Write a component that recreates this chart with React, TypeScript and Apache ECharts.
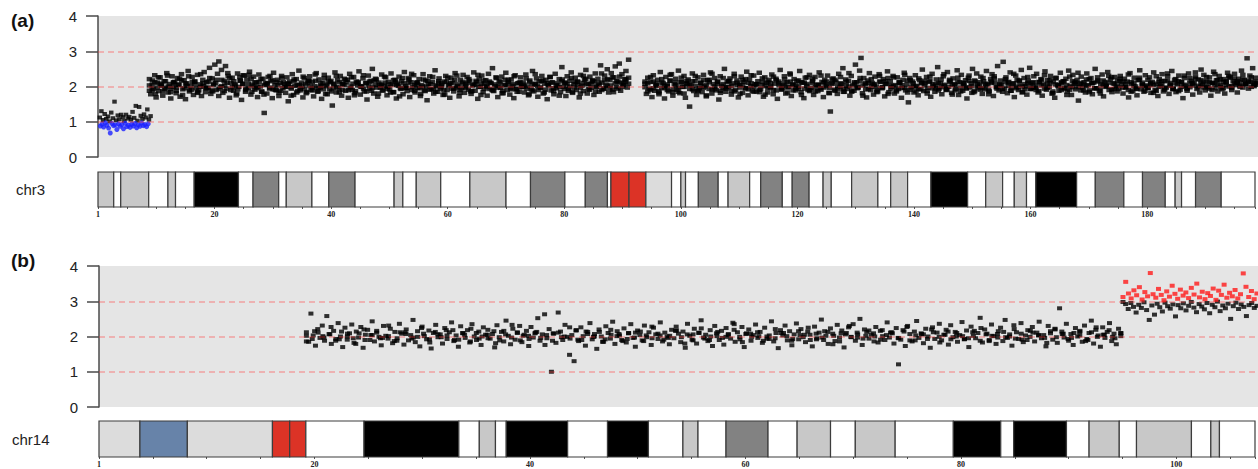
import React, { useEffect, useRef } from "react";
import * as echarts from "echarts";

// ---------- axis extents (Mb) ----------
const CHR3_LEN = 198.5;
const CHR14_LEN = 107.3;
const Y_TICKS = [0, 1, 2, 3, 4];
const REF_LEVELS = [1, 2, 3];

// ---------- ideogram bands [start, end, stain] ----------
const CHR3_BANDS: [number, number, string][] = [
  [0, 2.7, "gpos25"], [2.7, 3.9, "gneg"], [3.9, 8.7, "gpos25"], [8.7, 12.0, "gneg"], [12.0, 13.3, "gpos25"],
  [13.3, 16.5, "gneg"], [16.5, 24.1, "gpos100"], [24.1, 26.6, "gneg"], [26.6, 31.0, "gpos50"], [31.0, 32.3, "gneg"],
  [32.3, 36.7, "gpos25"], [36.7, 39.6, "gneg"], [39.6, 44.1, "gpos50"], [44.1, 50.8, "gneg"], [50.8, 52.3, "gpos25"],
  [52.3, 54.6, "gneg"], [54.6, 58.8, "gpos25"], [58.8, 63.8, "gneg"], [63.8, 70.0, "gpos25"], [70.0, 74.2, "gneg"],
  [74.2, 80.1, "gpos50"], [80.1, 83.6, "gneg"], [83.6, 87.4, "gpos50"], [87.4, 88.0, "gneg"], [88.0, 91.1, "acen"],
  [91.1, 94.0, "acen"], [94.0, 98.4, "gvar"], [98.4, 100.0, "gneg"], [100.0, 100.8, "gpos25"], [100.8, 103.0, "gneg"],
  [103.0, 106.4, "gpos50"], [106.4, 108.1, "gneg"], [108.1, 111.8, "gpos25"], [111.8, 113.7, "gneg"], [113.7, 117.4, "gpos50"],
  [117.4, 119.1, "gneg"], [119.1, 122.0, "gpos50"], [122.0, 124.4, "gneg"], [124.4, 125.8, "gpos25"], [125.8, 129.3, "gneg"],
  [129.3, 133.8, "gpos25"], [133.8, 136.0, "gneg"], [136.0, 138.9, "gpos25"], [138.9, 142.9, "gneg"], [142.9, 149.2, "gpos100"],
  [149.2, 152.3, "gneg"], [152.3, 155.2, "gpos25"], [155.2, 157.2, "gneg"], [157.2, 159.3, "gpos25"], [159.3, 160.9, "gneg"],
  [160.9, 167.9, "gpos100"], [167.9, 171.1, "gneg"], [171.1, 176.0, "gpos50"], [176.0, 179.2, "gneg"], [179.2, 183.1, "gpos50"],
  [183.1, 184.8, "gneg"], [184.8, 185.9, "gpos25"], [185.9, 188.3, "gneg"], [188.3, 192.7, "gpos50"], [192.7, 198.5, "gneg"],
];
const CHR14_BANDS: [number, number, string][] = [
  [0, 3.8, "gvar"], [3.8, 8.2, "stalk"], [8.2, 16.1, "gvar"], [16.1, 17.7, "acen"], [17.7, 19.2, "acen"],
  [19.2, 24.6, "gneg"], [24.6, 33.4, "gpos100"], [33.4, 35.3, "gneg"], [35.3, 36.8, "gpos25"], [36.8, 37.8, "gneg"],
  [37.8, 43.5, "gpos100"], [43.5, 47.2, "gneg"], [47.2, 51.0, "gpos100"], [51.0, 54.2, "gneg"], [54.2, 55.6, "gpos25"],
  [55.6, 58.2, "gneg"], [58.2, 62.1, "gpos50"], [62.1, 64.8, "gneg"], [64.8, 67.9, "gpos25"], [67.9, 70.2, "gneg"],
  [70.2, 73.9, "gpos25"], [73.9, 79.3, "gneg"], [79.3, 83.7, "gpos100"], [83.7, 84.9, "gneg"], [84.9, 89.8, "gpos100"],
  [89.8, 91.9, "gneg"], [91.9, 94.7, "gpos25"], [94.7, 96.3, "gneg"], [96.3, 101.4, "gpos25"], [101.4, 103.2, "gneg"],
  [103.2, 104.0, "gpos25"], [104.0, 107.3, "gneg"],
];
const STAIN_COLORS: Record<string, string> = {
  gneg: "#ffffff", gpos25: "#c8c8c8", gpos50: "#828282", gpos100: "#000000",
  acen: "#dc3326", gvar: "#dcdcdc", stalk: "#6783a9",
};

// ---------- copy-number segments: [start Mb, end Mb] ----------
const CHR3_SEG_A = [0.3, 9.0];
const CHR3_SEG_A_BLUE = [0.4, 8.6];
const CHR3_SEG_B = [8.8, 90.8];
const CHR3_SEG_C = [93.6, 198.3];
const CHR14_SEG_D = [19.2, 94.6];
const CHR14_SEG_E = [94.8, 107.2];

// ---------- copy-number values (in probe order along each segment) ----------
const chr3LowBlack = [1.12, 1.3, 1.05, 1.22, 1.08, 1.15, 1.01, 1.26, 1.1, 1.57, 1.04, 1.18, 1.07, 1.2, 1.13, 1.02, 1.2, 1.09, 1.14, 1.06, 1.28, 1.11, 1.45, 1.03, 1.42, 1.17, 1.08, 1.21, 1.12, 1.35, 1.06, 1.16];
const chr3LowBlue = [0.88, 0.93, 0.85, 0.97, 0.9, 0.82, 0.68, 0.95, 0.89, 0.91, 0.78, 0.94, 0.87, 0.92, 0.8, 0.96, 0.86, 0.9, 0.84, 0.93, 0.88, 0.95, 0.83, 0.91, 0.87, 0.97, 0.89, 0.92, 0.86, 0.94];
const chr3SegB = [
  2.21, 1.78, 2.04, 1.93, 2.32, 1.69, 2.11, 1.87, 2.26, 2.02, 1.74, 2.15, 1.96, 2.38, 1.83, 2.07, 1.66, 2.29, 1.99, 2.13,
  1.81, 2.24, 2.05, 1.71, 2.35, 1.92, 2.18, 1.64, 2.09, 2.44, 1.86, 2.01, 2.27, 1.76, 2.14, 1.95, 2.33, 1.89, 2.06, 1.73,
  2.19, 2.41, 1.84, 2.12, 1.97, 2.53, 1.79, 2.23, 2.08, 2.62, 1.9, 2.36, 2.71, 1.98, 2.47, 1.82, 2.16, 2.58, 1.94, 2.3,
  1.68, 2.1, 2.25, 1.88, 2.03, 1.75, 2.37, 1.99, 2.17, 1.62, 2.08, 2.31, 1.85, 2.2, 1.96, 2.42, 1.77, 2.05, 2.28, 1.91,
  2.12, 1.7, 2.34, 2.0, 1.86, 2.22, 1.25, 2.09, 1.8, 2.27, 1.94, 2.15, 1.67, 2.39, 2.04, 1.89, 2.19, 1.73, 2.1, 2.3,
  1.95, 2.07, 1.82, 2.26, 1.58, 2.14, 1.98, 2.35, 1.76, 2.02, 2.21, 1.87, 2.45, 1.93, 2.11, 1.69, 2.24, 2.06, 1.84, 2.17,
  2.29, 1.9, 2.13, 1.72, 2.01, 2.38, 1.85, 2.2, 1.97, 1.65, 2.1, 2.33, 1.79, 2.05, 2.25, 1.92, 2.16, 1.46, 2.08, 2.4,
  1.83, 2.18, 1.96, 2.3, 1.74, 2.07, 2.22, 1.88, 2.12, 1.68, 2.36, 2.0, 1.9, 2.27, 1.81, 2.14, 2.03, 2.43, 1.77, 1.99,
  2.23, 1.86, 2.09, 1.63, 2.31, 1.94, 2.16, 2.5, 1.8, 2.05, 2.2, 1.71, 2.11, 1.97, 2.34, 1.88, 2.02, 2.26, 1.75, 2.13,
  1.92, 2.37, 2.06, 1.84, 2.19, 1.66, 2.08, 2.28, 1.95, 2.15, 1.78, 2.41, 2.01, 1.87, 2.24, 1.7, 2.12, 1.98, 2.32, 1.83,
  2.1, 1.96, 2.21, 1.73, 2.04, 2.35, 1.89, 2.17, 1.61, 2.07, 2.29, 1.93, 2.13, 1.8, 2.46, 2.0, 1.85, 2.23, 1.94, 2.09,
  1.76, 2.14, 2.3, 1.9, 2.02, 1.68, 2.25, 2.11, 1.86, 2.38, 1.97, 2.06, 1.72, 2.19, 1.95, 2.33, 1.82, 2.08, 2.27, 1.91,
  2.16, 1.79, 2.03, 2.4, 1.88, 2.12, 1.65, 2.22, 1.99, 2.31, 1.84, 2.07, 2.18, 1.74, 2.36, 1.93, 2.1, 2.52, 1.87, 2.01,
  2.24, 1.7, 2.15, 1.96, 2.28, 1.81, 2.05, 2.39, 1.9, 2.13, 1.77, 2.2, 2.02, 1.67, 2.32, 1.94, 2.09, 1.85, 2.26, 1.98,
  2.11, 1.83, 2.34, 2.0, 1.75, 2.17, 1.92, 2.44, 1.86, 2.06, 2.23, 1.71, 2.14, 1.97, 2.3, 1.8, 2.08, 2.19, 1.64, 2.03,
  2.27, 1.89, 2.12, 1.78, 2.36, 1.95, 2.04, 2.21, 1.84, 2.55, 1.99, 2.1, 1.73, 2.29, 1.93, 2.16, 2.4, 1.82, 2.07, 2.25,
  1.9, 2.13, 1.69, 2.33, 2.02, 1.87, 2.19, 2.47, 1.8, 2.08, 2.28, 1.96, 2.15, 1.76, 2.37, 2.0, 2.22, 1.85, 2.6, 2.11,
  1.94, 2.31, 2.05, 2.49, 1.83, 2.18, 2.38, 1.91, 2.26, 2.57, 1.98, 2.14, 2.65, 1.88, 2.35, 2.09, 2.21, 2.44, 1.97, 2.76,
];
const chr3SegBExtra = [
  2.03, 1.91, 2.12, 1.97, 2.08, 1.86, 2.15, 2.0, 1.94, 2.1, 1.88, 2.05, 2.17, 1.95, 2.02, 1.9, 2.13, 2.07, 1.84, 1.99,
  2.09, 1.96, 2.14, 1.89, 2.04, 2.19, 1.93, 2.01, 1.87, 2.11, 2.24, 1.98, 2.06, 1.92, 2.16, 2.32, 1.9, 2.08, 2.21, 2.0,
  1.95, 2.13, 1.85, 2.04, 2.1, 1.97, 2.18, 1.91, 2.03, 1.88, 2.12, 1.99, 2.07, 1.94, 2.15, 1.83, 2.05, 2.0, 1.93, 2.11,
  2.02, 1.89, 2.16, 1.96, 2.09, 1.92, 2.01, 2.14, 1.86, 2.06, 1.98, 2.12, 1.9, 2.04, 2.19, 1.95, 2.08, 1.87, 2.13, 2.0,
  1.94, 2.1, 2.03, 1.88, 2.17, 1.97, 2.05, 1.91, 2.11, 1.99, 2.06, 1.84, 2.14, 2.02, 1.93, 2.09, 1.96, 2.2, 1.9, 2.04,
  2.12, 1.95, 2.0, 1.87, 2.15, 2.07, 1.92, 2.03, 2.1, 1.98, 1.89, 2.13, 2.05, 1.94, 2.18, 2.01, 1.91, 2.08, 1.96, 2.11,
  1.86, 2.04, 2.16, 1.99, 2.09, 1.93, 2.02, 2.14, 1.9, 2.06, 1.97, 2.12, 1.88, 2.03, 2.19, 1.95, 2.07, 1.92, 2.1, 2.0,
  2.05, 1.94, 2.13, 1.89, 2.08, 2.01, 1.96, 2.17, 1.91, 2.04, 2.11, 1.87, 2.09, 1.98, 2.15, 1.93, 2.06, 2.0, 1.85, 2.12,
  2.03, 1.97, 2.1, 2.22, 1.92, 2.07, 2.14, 1.99, 2.05, 1.9, 2.18, 2.02, 1.95, 2.26, 2.09, 1.94, 2.11, 2.04, 2.2, 2.08,
];
const chr3SegBMore = [
  1.88, 2.17, 1.79, 2.26, 2.05, 1.93, 2.31, 1.84, 2.12, 1.97, 2.22, 1.76, 2.08, 2.29, 1.91, 2.14, 1.82, 2.35, 2.01, 1.95,
  2.24, 1.86, 2.1, 1.73, 2.19, 2.03, 2.38, 1.9, 2.15, 1.8, 2.27, 2.07, 1.94, 2.33, 1.85, 2.11, 1.98, 2.21, 1.77, 2.06,
  2.3, 1.92, 2.13, 1.83, 2.25, 1.99, 2.09, 1.74, 2.2, 2.04, 1.89, 2.28, 1.81, 2.16, 1.96, 2.34, 1.87, 2.02, 2.23, 1.78,
  2.12, 1.95, 2.3, 1.84, 2.07, 2.19, 1.9, 2.26, 1.75, 2.1, 2.01, 2.32, 1.86, 2.14, 1.97, 2.22, 1.8, 2.05, 2.28, 1.93,
  1.83, 2.18, 2.04, 1.72, 2.24, 1.96, 2.11, 2.36, 1.88, 2.08, 1.79, 2.2, 2.0, 1.91, 2.27, 1.85, 2.15, 2.03, 1.77, 2.25,
  2.09, 1.94, 2.31, 1.82, 2.13, 2.0, 2.21, 1.87, 2.06, 2.33, 1.76, 2.17, 1.98, 2.1, 1.89, 2.26, 2.02, 1.81, 2.19, 2.07,
  1.92, 2.29, 1.85, 2.12, 1.99, 2.23, 1.78, 2.05, 2.35, 1.9, 2.16, 1.83, 2.09, 2.27, 1.95, 2.02, 1.74, 2.2, 2.11, 1.88,
  2.24, 1.97, 2.14, 1.8, 2.3, 2.06, 1.91, 2.18, 1.86, 2.1, 2.37, 1.94, 2.21, 2.03, 1.84, 2.15, 2.28, 1.99, 2.12, 2.25,
];
const chr3SegC = [
  2.08, 1.79, 2.25, 1.94, 2.13, 1.7, 2.32, 1.88, 2.04, 2.19, 1.83, 2.41, 1.97, 2.1, 1.66, 2.27, 2.01, 1.86, 2.16, 2.35,
  1.74, 2.06, 2.22, 1.91, 2.45, 1.81, 2.12, 1.99, 2.3, 1.68, 2.09, 2.2, 1.43, 2.03, 2.37, 1.87, 2.15, 1.76, 2.26, 1.95,
  2.11, 1.84, 2.33, 2.0, 1.72, 2.18, 1.93, 2.4, 1.8, 2.07, 2.24, 1.89, 2.14, 1.63, 2.29, 2.02, 1.96, 2.5, 1.85, 2.12,
  1.98, 2.23, 1.77, 2.09, 2.36, 1.9, 2.17, 1.69, 2.05, 2.28, 1.82, 2.13, 1.95, 2.42, 1.75, 2.2, 2.01, 1.88, 2.31, 2.07,
  1.86, 2.15, 2.39, 1.92, 2.04, 1.71, 2.26, 2.1, 1.83, 2.19, 1.97, 2.34, 1.78, 2.08, 2.22, 1.65, 2.14, 2.47, 1.91, 2.03,
  2.29, 1.8, 2.12, 1.99, 2.37, 1.73, 2.06, 2.21, 1.89, 2.16, 1.94, 2.44, 1.84, 2.11, 1.67, 2.25, 2.02, 1.9, 2.33, 1.96,
  2.1, 1.76, 2.27, 2.05, 1.87, 2.4, 1.95, 2.13, 1.7, 2.19, 2.01, 2.31, 1.82, 1.29, 2.09, 2.23, 1.91, 2.14, 1.79, 2.36,
  1.98, 2.07, 2.52, 1.85, 2.2, 1.93, 2.16, 1.74, 2.3, 2.03, 1.88, 2.62, 2.12, 1.97, 2.45, 2.81, 1.81, 2.24, 2.06, 1.69,
  2.17, 2.38, 1.9, 2.1, 1.77, 2.28, 2.0, 1.86, 2.35, 2.13, 1.95, 2.21, 1.72, 2.08, 2.43, 1.84, 2.15, 1.99, 2.3, 1.8,
  2.04, 2.26, 1.93, 2.11, 1.68, 2.19, 2.39, 1.89, 2.06, 1.55, 2.24, 1.97, 2.14, 1.83, 2.32, 2.02, 1.75, 2.18, 1.92, 2.48,
  1.87, 2.09, 2.27, 1.96, 2.13, 1.71, 2.36, 2.01, 1.85, 2.2, 2.55, 1.94, 2.1, 1.78, 2.29, 2.05, 1.9, 2.41, 1.99, 2.16,
  1.82, 2.23, 2.07, 1.93, 2.46, 1.76, 2.12, 2.33, 1.88, 2.03, 2.18, 1.66, 2.25, 1.97, 2.09, 2.5, 1.84, 2.14, 2.37, 1.95,
  2.02, 2.28, 1.79, 2.15, 1.92, 2.44, 2.06, 1.86, 2.21, 2.35, 1.73, 2.11, 1.98, 2.58, 1.89, 2.17, 2.04, 2.7, 1.94, 2.26,
  1.81, 2.13, 2.4, 1.97, 2.08, 1.7, 2.31, 2.19, 1.9, 2.05, 2.47, 1.85, 2.24, 2.0, 1.77, 2.16, 2.53, 1.93, 2.1, 2.29,
  1.96, 2.36, 1.83, 2.12, 2.21, 1.74, 2.06, 2.43, 1.91, 2.18, 1.99, 2.3, 1.8, 2.14, 1.68, 2.25, 2.03, 1.88, 2.39, 2.09,
  2.15, 1.94, 2.22, 1.86, 2.45, 2.01, 1.76, 2.33, 2.1, 1.92, 2.19, 1.6, 2.07, 2.28, 1.97, 2.12, 1.83, 2.37, 2.04, 1.89,
  2.24, 1.78, 2.11, 2.5, 1.95, 2.17, 1.87, 2.06, 2.34, 1.72, 2.13, 2.02, 2.41, 1.9, 2.2, 1.84, 2.09, 2.27, 1.98, 2.16,
  1.93, 2.3, 2.05, 1.8, 2.22, 1.99, 2.14, 1.69, 2.38, 2.07, 1.88, 2.25, 2.0, 1.75, 2.18, 2.46, 1.92, 2.11, 1.85, 2.32,
  2.03, 1.96, 2.26, 1.82, 2.13, 2.4, 1.9, 2.08, 1.73, 2.21, 2.01, 2.35, 1.86, 2.15, 1.97, 2.29, 1.79, 2.1, 2.44, 1.94,
  2.19, 1.84, 2.06, 2.31, 1.91, 2.12, 1.67, 2.24, 2.02, 1.88, 2.37, 1.98, 2.16, 1.77, 2.09, 2.28, 1.93, 2.2, 1.83, 2.48,
  2.05, 2.33, 1.89, 2.14, 1.98, 2.26, 1.74, 2.1, 2.42, 1.95, 2.18, 1.86, 2.3, 2.03, 1.92, 2.21, 1.8, 2.12, 2.39, 2.0,
  2.27, 1.9, 2.15, 2.36, 2.04, 1.83, 2.22, 2.11, 2.45, 1.97, 2.19, 2.07, 2.8, 1.94, 2.31, 2.13, 2.52, 2.01, 2.25, 2.09,
];
const chr3SegCExtra = [
  1.98, 2.09, 1.9, 2.14, 2.02, 1.87, 2.11, 1.95, 2.06, 2.17, 1.92, 2.03, 1.85, 2.12, 1.99, 2.08, 1.93, 2.15, 2.01, 1.89,
  2.1, 1.96, 2.05, 2.19, 1.91, 2.0, 2.13, 1.88, 2.07, 1.94, 2.16, 2.02, 1.86, 2.11, 1.97, 2.04, 2.21, 1.92, 2.09, 1.99,
  2.06, 1.84, 2.13, 2.01, 1.95, 2.1, 1.9, 2.18, 2.03, 1.93, 2.08, 1.97, 2.14, 1.89, 2.05, 2.0, 2.12, 1.94, 2.07, 1.87,
  2.15, 1.98, 2.04, 1.91, 2.11, 2.06, 1.96, 2.2, 1.88, 2.02, 2.09, 1.93, 2.13, 2.0, 1.85, 2.08, 1.95, 2.16, 2.03, 1.92,
  2.1, 1.99, 2.05, 1.9, 2.14, 1.97, 2.07, 2.24, 1.94, 2.01, 1.86, 2.12, 2.04, 1.96, 2.17, 1.91, 2.09, 2.0, 1.93, 2.11,
  2.03, 1.88, 2.15, 2.06, 1.95, 2.1, 1.98, 2.02, 1.92, 2.19, 2.05, 1.89, 2.13, 1.97, 2.08, 1.94, 2.16, 2.01, 1.87, 2.07,
  2.12, 1.96, 2.04, 1.91, 2.1, 2.23, 1.99, 2.06, 1.93, 2.14, 2.02, 1.88, 2.09, 1.95, 2.17, 2.0, 1.92, 2.11, 2.05, 1.97,
  1.9, 2.13, 2.03, 1.94, 2.08, 2.18, 1.86, 2.06, 2.0, 2.12, 1.96, 2.04, 1.91, 2.15, 2.07, 1.98, 2.1, 1.89, 2.02, 2.21,
  2.09, 1.95, 2.14, 1.92, 2.05, 1.99, 2.11, 2.26, 1.93, 2.03, 2.16, 1.97, 2.08, 1.9, 2.12, 2.01, 1.94, 2.19, 2.06, 2.0,
  1.96, 2.1, 2.04, 1.88, 2.13, 2.07, 1.95, 2.17, 2.02, 1.92, 2.09, 2.15, 1.99, 2.05, 1.93, 2.11, 2.03, 2.22, 1.97, 2.08,
  2.14, 2.01, 1.94, 2.1, 2.06, 2.18, 1.98, 2.12, 2.04, 2.25, 1.96, 2.09, 2.15, 2.02, 2.2, 2.07, 2.13, 1.99, 2.11, 2.05,
];
const chr3SegCMore = [
  2.14, 1.86, 2.27, 1.95, 2.08, 1.78, 2.21, 2.02, 1.9, 2.33, 1.84, 2.11, 1.97, 2.25, 1.8, 2.16, 2.05, 1.92, 2.3, 1.87,
  2.01, 2.19, 1.75, 2.12, 2.36, 1.93, 2.07, 1.82, 2.24, 1.98, 2.15, 1.88, 2.29, 2.04, 1.79, 2.18, 1.95, 2.1, 2.32, 1.85,
  2.06, 1.91, 2.23, 1.77, 2.13, 2.0, 2.28, 1.89, 2.09, 1.96, 2.2, 1.83, 2.34, 2.03, 1.94, 2.17, 1.76, 2.11, 2.26, 1.9,
  2.22, 1.86, 2.05, 2.31, 1.97, 2.14, 1.81, 2.08, 2.19, 1.92, 2.27, 1.85, 2.02, 2.38, 1.88, 2.12, 1.99, 2.24, 1.74, 2.1,
  1.93, 2.21, 2.07, 1.84, 2.3, 1.98, 2.15, 1.79, 2.04, 2.26, 1.9, 2.11, 1.96, 2.33, 1.83, 2.18, 2.01, 1.87, 2.23, 2.09,
  2.16, 1.8, 2.28, 1.95, 2.06, 1.89, 2.2, 2.35, 1.92, 2.13, 1.77, 2.03, 2.25, 1.86, 2.1, 1.97, 2.31, 1.82, 2.17, 2.0,
  1.91, 2.24, 2.08, 1.78, 2.14, 2.29, 1.94, 2.05, 1.85, 2.21, 2.11, 1.88, 2.36, 1.99, 2.16, 1.83, 2.07, 2.27, 1.93, 2.12,
  2.02, 1.87, 2.19, 2.32, 1.96, 2.09, 1.81, 2.23, 2.04, 1.9, 2.15, 1.76, 2.28, 1.98, 2.13, 2.39, 1.89, 2.06, 2.2, 1.84,
  2.1, 1.95, 2.26, 1.8, 2.17, 2.01, 2.3, 1.92, 2.08, 1.86, 2.22, 2.14, 1.97, 2.34, 1.85, 2.11, 1.93, 2.25, 2.03, 1.88,
  2.19, 2.07, 1.82, 2.29, 1.99, 2.16, 1.91, 2.37, 2.05, 1.94, 2.21, 1.87, 2.12, 2.31, 1.96, 2.24, 2.09, 2.4, 2.02, 2.18,
  1.97, 2.27, 2.13, 1.9, 2.35, 2.06, 2.2, 1.95, 2.15, 2.3, 2.01, 2.23, 2.1, 1.99, 2.33, 2.08, 2.17, 2.26, 2.04, 2.14,
];
const chr14SegD = [
  2.12, 1.85, 2.65, 2.03, 1.74, 2.21, 1.96, 2.31, 1.88, 2.58, 2.07, 1.79, 2.16, 1.93, 2.38, 2.0, 1.7, 2.25, 1.91, 2.09,
  2.34, 1.82, 2.14, 1.97, 2.27, 1.68, 2.05, 2.19, 1.9, 2.43, 1.86, 2.11, 1.99, 1.75, 2.3, 2.02, 1.94, 2.22, 1.81, 2.13,
  1.95, 2.36, 2.08, 1.77, 2.2, 1.89, 2.04, 2.47, 1.84, 2.15, 1.72, 2.28, 2.01, 1.92, 2.17, 1.66, 2.1, 2.33, 1.98, 2.06,
  1.8, 2.24, 1.93, 2.12, 2.4, 1.87, 2.03, 1.71, 2.29, 2.09, 1.96, 2.18, 1.83, 2.35, 2.0, 1.9, 2.14, 1.76, 2.26, 2.05,
  2.19, 1.94, 2.07, 1.69, 2.32, 1.98, 2.13, 1.86, 2.45, 2.02, 1.78, 2.22, 1.91, 2.1, 2.3, 1.84, 2.05, 2.16, 1.73, 2.27,
  1.97, 2.11, 2.52, 1.88, 2.06, 2.63, 1.95, 2.21, 1.0, 2.08, 1.82, 2.68, 2.14, 1.9, 2.33, 1.99, 1.48, 2.04, 1.3, 2.18,
  1.87, 2.26, 2.01, 1.74, 2.13, 2.38, 1.92, 2.07, 1.65, 2.2, 2.0, 1.85, 2.29, 2.1, 1.94, 2.42, 1.79, 2.15, 2.03, 1.9,
  2.23, 1.83, 2.09, 2.35, 1.96, 1.71, 2.17, 2.04, 1.89, 2.31, 1.98, 2.12, 1.76, 2.25, 2.06, 1.93, 2.4, 1.86, 2.11, 2.0,
  1.78, 2.19, 1.95, 2.28, 2.08, 1.84, 2.14, 1.68, 2.36, 2.02, 1.91, 2.22, 1.8, 2.1, 2.46, 1.97, 2.05, 1.87, 2.18, 1.73,
  2.3, 2.01, 1.9, 2.16, 1.77, 2.24, 2.07, 1.94, 2.39, 1.85, 2.12, 1.99, 2.27, 1.7, 2.09, 2.2, 1.88, 2.04, 2.34, 1.96,
  2.13, 1.82, 2.25, 2.0, 1.93, 2.43, 1.86, 2.1, 1.67, 2.18, 2.03, 2.31, 1.89, 2.15, 1.75, 2.06, 2.37, 1.92, 2.21, 1.98,
  1.84, 2.14, 2.05, 1.72, 2.28, 1.95, 2.11, 2.48, 1.9, 2.02, 1.79, 2.23, 2.08, 1.87, 2.33, 1.97, 2.17, 1.69, 2.1, 2.26,
  1.99, 2.35, 1.88, 2.06, 2.5, 1.76, 2.2, 2.13, 1.94, 2.05, 2.09, 2.27, 1.83, 2.16, 2.01, 1.9, 2.4, 1.97, 2.12, 1.8,
  2.24, 1.21, 1.91, 2.18, 1.73, 2.3, 2.07, 1.86, 2.14, 2.44, 1.96, 2.09, 1.81, 2.22, 2.0, 1.68, 2.26, 1.93, 2.11, 2.36,
  1.89, 2.05, 2.19, 1.77, 2.32, 1.98, 2.13, 1.85, 2.04, 2.41, 1.92, 2.17, 1.7, 2.28, 2.02, 1.95, 2.1, 2.53, 1.83, 2.2,
  2.08, 1.9, 2.34, 2.01, 1.79, 2.15, 2.25, 1.87, 2.47, 1.96, 2.06, 1.74, 2.21, 2.12, 1.93, 2.38, 1.84, 2.03, 2.18, 1.99,
  2.27, 1.86, 2.11, 2.42, 1.95, 2.04, 1.72, 2.3, 2.09, 1.91, 2.2, 1.82, 2.8, 2.14, 1.97, 2.36, 1.88, 2.07, 1.76, 2.24,
  2.0, 2.16, 1.85, 2.31, 1.93, 2.1, 2.45, 1.8, 2.19, 2.03, 1.71, 2.26, 1.96, 2.13, 2.38, 1.87, 2.08, 1.78, 2.22, 2.01,
];
const chr14SegDExtra = [
  2.02, 1.93, 2.11, 1.97, 2.06, 1.88, 2.14, 2.0, 1.95, 2.09, 1.9, 2.04, 2.16, 1.96, 2.01, 1.87, 2.12, 2.07, 1.94, 1.99,
  2.08, 1.92, 2.13, 1.98, 2.03, 2.18, 1.91, 2.05, 1.86, 2.1, 2.0, 1.95, 2.15, 1.89, 2.06, 1.97, 2.12, 2.02, 1.93, 2.09,
  1.96, 2.04, 1.88, 2.11, 2.0, 1.94, 2.17, 1.9, 2.07, 1.99, 2.13, 1.92, 2.05, 2.01, 1.87, 2.1, 1.97, 2.14, 2.03, 1.95,
  2.08, 1.91, 2.02, 2.16, 1.98, 2.06, 1.89, 2.11, 1.94, 2.0, 2.09, 1.96, 2.04, 2.19, 1.92, 2.07, 1.99, 2.12, 1.88, 2.03,
  1.95, 2.1, 2.01, 1.93, 2.15, 2.05, 1.9, 2.08, 1.97, 2.13, 2.02, 1.86, 2.06, 1.98, 2.11, 1.94, 2.17, 2.0, 1.91, 2.04,
  2.09, 1.96, 2.14, 1.89, 2.03, 2.07, 1.93, 2.12, 1.99, 2.05, 1.92, 2.1, 2.01, 1.95, 2.16, 1.88, 2.06, 2.02, 1.97, 2.13,
  2.0, 1.94, 2.08, 1.9, 2.11, 2.04, 1.96, 2.15, 1.98, 2.07, 1.93, 2.1, 2.03, 1.87, 2.12, 1.99, 2.05, 2.18, 1.95, 2.09,
];
const chr14SegDMore = [
  1.86, 2.15, 2.01, 2.27, 1.92, 2.08, 1.79, 2.2, 2.04, 1.95, 2.31, 1.88, 2.12, 1.97, 2.24, 1.83, 2.06, 2.18, 1.9, 2.1,
  2.22, 1.94, 2.05, 1.81, 2.16, 2.33, 1.89, 2.02, 2.13, 1.76, 2.09, 1.98, 2.26, 1.91, 2.14, 2.0, 1.85, 2.19, 2.07, 1.93,
  2.11, 1.87, 2.28, 2.03, 1.96, 2.17, 1.8, 2.06, 2.23, 1.9, 2.13, 1.99, 2.35, 1.84, 2.08, 2.01, 1.94, 2.21, 2.1, 1.88,
  2.04, 2.25, 1.92, 2.15, 1.78, 2.09, 2.3, 1.97, 2.02, 1.86, 2.18, 2.11, 1.95, 2.27, 1.89, 2.06, 2.2, 1.83, 2.14, 2.0,
  1.93, 2.12, 2.24, 1.87, 2.07, 1.98, 2.32, 1.91, 2.16, 2.03, 1.82, 2.22, 2.08, 1.96, 2.13, 1.9, 2.26, 2.05, 1.99, 2.1,
];
const chr14GainBlack = [2.98, 2.92, 2.78, 2.95, 2.84, 2.68, 2.9, 2.81, 2.97, 2.75, 2.47, 2.88, 2.62, 2.93, 2.83, 2.71, 2.96, 2.86, 2.79, 2.91, 2.57, 2.89, 2.8, 2.94, 2.74, 2.87, 2.98, 2.82, 2.69, 2.92, 2.85, 2.77, 2.95, 2.66, 2.9, 2.83, 2.99, 2.72, 2.88, 2.8, 2.93, 2.5, 2.86, 2.96, 2.78, 2.91, 2.84, 2.58, 2.89, 2.95, 2.81, 2.87];
const chr14GainRed = [3.12, 3.55, 3.22, 3.08, 3.31, 3.17, 3.4, 3.05, 3.26, 3.14, 3.8, 3.2, 3.1, 3.35, 3.18, 3.03, 3.28, 3.13, 3.44, 3.21, 3.07, 3.33, 3.16, 3.25, 3.09, 3.38, 3.19, 3.5, 3.11, 3.27, 3.06, 3.23, 3.15, 3.36, 3.04, 3.3, 3.18, 3.47, 3.1, 3.24, 3.14, 3.32, 3.08, 3.2, 3.79, 3.41, 3.12, 3.29, 3.06, 3.22];

// place probe values in order along their segment
const alongSegment = (seg: number[], vals: number[]) =>
  vals.map((v, i) => [seg[0] + ((seg[1] - seg[0]) * i) / (vals.length - 1), v]);

const bandSeries = (bands: [number, number, string][], axisIndex: number) => ({
  type: "custom",
  xAxisIndex: axisIndex,
  yAxisIndex: axisIndex,
  silent: true,
  encode: { x: [0, 1] },
  data: bands.map((b) => [b[0], b[1]]),
  renderItem: (params: any, api: any) => {
    const s = api.coord([api.value(0), 0]);
    const e = api.coord([api.value(1), 1]);
    const stain = bands[params.dataIndex][2];
    return {
      type: "rect",
      shape: { x: s[0], y: e[1], width: e[0] - s[0], height: s[1] - e[1] },
      style: { fill: STAIN_COLORS[stain], stroke: "#3c3c3c", lineWidth: 1.2 },
    };
  },
});

const scatter = (data: number[][], axisIndex: number, color: string, symbol = "rect", size: any = [5, 4]) => ({
  type: "scatter",
  xAxisIndex: axisIndex,
  yAxisIndex: axisIndex,
  symbol,
  symbolSize: size,
  silent: true,
  large: false,
  progressive: 0,
  itemStyle: { color },
  data,
});

const refLines = (axisIndex: number) => ({
  type: "line",
  xAxisIndex: axisIndex,
  yAxisIndex: axisIndex,
  data: [],
  z: 5,
  silent: true,
  markLine: {
    silent: true,
    symbol: "none",
    label: { show: false },
    lineStyle: { color: "rgba(255,55,55,0.4)", type: [6, 4], width: 1.6 },
    data: REF_LEVELS.map((v) => ({ yAxis: v })),
  },
});

const cnYAxis = (gridIndex: number) => ({
  gridIndex,
  type: "value",
  min: Y_TICKS[0],
  max: Y_TICKS[Y_TICKS.length - 1],
  interval: 1,
  axisLine: { show: true, lineStyle: { color: "#4a4a4a", width: 1.5 } },
  axisTick: { show: true, length: 12, lineStyle: { color: "#4a4a4a", width: 1.5 } },
  axisLabel: { fontSize: 15, color: "#222", margin: 21, fontFamily: "Liberation Sans, Arial, sans-serif" },
  splitLine: { show: false },
});

const ideoXAxis = (gridIndex: number, max: number) => ({
  gridIndex,
  type: "value",
  min: 0,
  max,
  interval: 5,
  axisLine: { show: false },
  axisTick: { show: true, length: 2, lineStyle: { color: "#555", width: 1 } },
  axisLabel: {
    fontSize: 8,
    fontWeight: "bold",
    color: "#222",
    margin: 3,
    fontFamily: "Liberation Serif, serif",
    formatter: (v: number) => (v % 20 === 0 ? (v === 0 ? "1" : String(v)) : ""),
  },
  splitLine: { show: false },
});

const PANEL_A_SIZE = [5.5, 4.5];

export default function App() {
  const ref = useRef<HTMLDivElement>(null);
  useEffect(() => {
    if (!ref.current) return;
    const chart = echarts.init(ref.current, undefined, { renderer: "svg" });
    const option: any = {
      animation: false,
      backgroundColor: "#ffffff",
      grid: [
        { left: 98, top: 16, width: 1160, height: 141, show: true, backgroundColor: "#e5e5e5", borderWidth: 0 },
        { left: 98, top: 172, width: 1160, height: 35 },
        { left: 99, top: 266, width: 1159, height: 141, show: true, backgroundColor: "#e5e5e5", borderWidth: 0 },
        { left: 99, top: 421, width: 1159, height: 36 },
      ],
      xAxis: [
        { gridIndex: 0, type: "value", min: 0, max: CHR3_LEN, show: false },
        ideoXAxis(1, CHR3_LEN),
        { gridIndex: 2, type: "value", min: 0, max: CHR14_LEN, show: false },
        ideoXAxis(3, CHR14_LEN),
      ],
      yAxis: [
        cnYAxis(0),
        { gridIndex: 1, type: "value", min: 0, max: 1, show: false },
        cnYAxis(2),
        { gridIndex: 3, type: "value", min: 0, max: 1, show: false },
      ],
      graphic: [
        { type: "text", left: 11, top: 11, style: { text: "(a)", font: 'bold 19px "Liberation Sans", Arial, sans-serif', fill: "#111" } },
        { type: "text", left: 16, top: 182, style: { text: "chr3", font: '15px "Liberation Sans", Arial, sans-serif', fill: "#222" } },
        { type: "text", left: 11, top: 251, style: { text: "(b)", font: 'bold 19px "Liberation Sans", Arial, sans-serif', fill: "#111" } },
        { type: "text", left: 12, top: 432, style: { text: "chr14", font: '15px "Liberation Sans", Arial, sans-serif', fill: "#222" } },
      ],
      series: [
        bandSeries(CHR3_BANDS, 1),
        bandSeries(CHR14_BANDS, 3),
        scatter(alongSegment(CHR3_SEG_A, chr3LowBlack), 0, "#000000", "rect", [4.5, 4]),
        scatter(alongSegment(CHR3_SEG_A_BLUE, chr3LowBlue), 0, "#1c22ff", "circle", 5),
        scatter(alongSegment(CHR3_SEG_B, chr3SegB), 0, "#000000", "rect", PANEL_A_SIZE),
        scatter(alongSegment(CHR3_SEG_B, chr3SegBExtra), 0, "#000000", "rect", PANEL_A_SIZE),
        scatter(alongSegment(CHR3_SEG_B, chr3SegBMore), 0, "#000000", "rect", PANEL_A_SIZE),
        scatter(alongSegment(CHR3_SEG_C, chr3SegC), 0, "#000000", "rect", PANEL_A_SIZE),
        scatter(alongSegment(CHR3_SEG_C, chr3SegCExtra), 0, "#000000", "rect", PANEL_A_SIZE),
        scatter(alongSegment(CHR3_SEG_C, chr3SegCMore), 0, "#000000", "rect", PANEL_A_SIZE),
        refLines(0),
        scatter(alongSegment(CHR14_SEG_D, chr14SegD), 2, "#000000"),
        scatter(alongSegment(CHR14_SEG_D, chr14SegDExtra), 2, "#000000"),
        scatter(alongSegment(CHR14_SEG_D, chr14SegDMore), 2, "#000000"),
        scatter(alongSegment(CHR14_SEG_E, chr14GainBlack), 2, "#000000"),
        scatter(alongSegment(CHR14_SEG_E, chr14GainRed), 2, "#ff1a1a"),
        refLines(2),
      ],
    };
    chart.setOption(option);
    return () => chart.dispose();
  }, []);
  return (
    <div
      ref={ref}
      style={{ position: "absolute", left: 0, top: 0, width: 1258, height: 469 }}
    />
  );
}
